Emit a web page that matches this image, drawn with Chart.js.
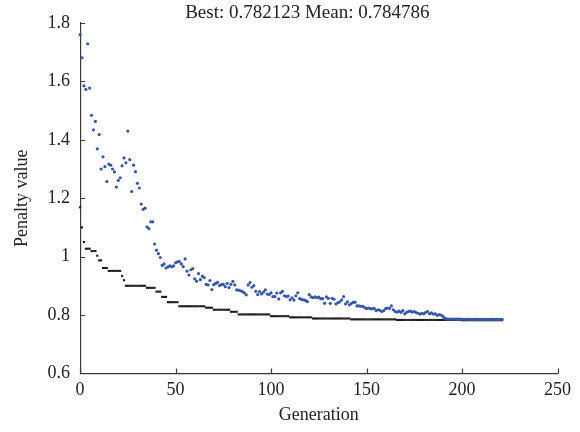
<!DOCTYPE html>
<html>
<head>
<meta charset="utf-8">
<script src="https://cdn.jsdelivr.net/npm/chart.js@4.4.1/dist/chart.umd.min.js"></script>
<style>
  html, body { margin: 0; padding: 0; background: #fff; }
  #wrap { width: 580px; height: 432px; }
</style>
</head>
<body>
<div id="wrap"><canvas id="chart" width="580" height="432"></canvas></div>
<script>
// mean penalty per generation (blue dots)
const meanValues = [
  1.760, 1.681, 1.585, 1.573, 1.729, 1.577, 1.484, 1.434, 1.463, 1.369,
  1.418, 1.300, 1.342, 1.308, 1.257, 1.317, 1.313, 1.300, 1.290, 1.238,
  1.261, 1.270, 1.311, 1.338, 1.321, 1.430, 1.332, 1.223, 1.313, 1.291,
  1.251, 1.235, 1.180, 1.162, 1.166, 1.102, 1.096, 1.119, 1.119, 1.043,
  1.022, 1.010, 0.997, 0.970, 0.975, 0.961, 0.965, 0.968, 0.965, 0.968,
  0.979, 0.982, 0.983, 0.975, 0.966, 0.992, 0.950, 0.937, 0.955, 0.959,
  0.924, 0.916, 0.942, 0.921, 0.933, 0.928, 0.905, 0.903, 0.918, 0.887,
  0.904, 0.908, 0.912, 0.901, 0.904, 0.905, 0.897, 0.908, 0.894, 0.905,
  0.915, 0.903, 0.886, 0.885, 0.883, 0.880, 0.876, 0.869, 0.903, 0.911,
  0.895, 0.901, 0.881, 0.870, 0.880, 0.872, 0.878, 0.886, 0.872, 0.870,
  0.876, 0.863, 0.863, 0.875, 0.855, 0.876, 0.881, 0.866, 0.863, 0.865,
  0.852, 0.859, 0.851, 0.866, 0.876, 0.856, 0.853, 0.852, 0.850, 0.846,
  0.870, 0.862, 0.859, 0.862, 0.860, 0.861, 0.856, 0.856, 0.840, 0.862,
  0.857, 0.840, 0.857, 0.854, 0.838, 0.842, 0.845, 0.852, 0.863, 0.838,
  0.845, 0.835, 0.839, 0.843, 0.844, 0.831, 0.831, 0.830, 0.830, 0.825,
  0.822, 0.824, 0.822, 0.821, 0.823, 0.815, 0.818, 0.816, 0.812, 0.815,
  0.822, 0.824, 0.823, 0.831, 0.818, 0.812, 0.810, 0.813, 0.809, 0.815,
  0.804, 0.809, 0.812, 0.813, 0.810, 0.812, 0.808, 0.806, 0.803, 0.806,
  0.804, 0.809, 0.812, 0.804, 0.807, 0.803, 0.804, 0.799, 0.801, 0.800,
  0.795, 0.789, 0.787, 0.786, 0.786, 0.7862, 0.7860, 0.7858, 0.7857, 0.7856,
  0.7855, 0.7855, 0.7854, 0.7853, 0.7852, 0.7852, 0.7851, 0.7851, 0.7850, 0.7850,
  0.7850, 0.7849, 0.7849, 0.7849, 0.7848, 0.7848, 0.7848, 0.7848, 0.7848, 0.7848,
  0.784786, 0.784786
];

// best penalty per generation (black dots)
const bestValues = [
  1.169, 1.100, 1.050, 1.027, 1.027, 1.027, 1.019, 1.019, 1.019, 1.003,
  0.987, 0.987, 0.961, 0.961, 0.961, 0.951, 0.951, 0.951, 0.951, 0.951,
  0.951, 0.951, 0.934, 0.919, 0.900, 0.900, 0.900, 0.900, 0.900, 0.900,
  0.900, 0.900, 0.900, 0.900, 0.900, 0.893, 0.893, 0.893, 0.893, 0.893,
  0.880, 0.880, 0.880, 0.862, 0.862, 0.862, 0.844, 0.844, 0.844, 0.844,
  0.844, 0.844, 0.830, 0.830, 0.830, 0.830, 0.830, 0.830, 0.830, 0.830,
  0.830, 0.830, 0.830, 0.830, 0.830, 0.830, 0.825, 0.825, 0.825, 0.825,
  0.818, 0.818, 0.818, 0.818, 0.818, 0.818, 0.818, 0.818, 0.818, 0.811,
  0.811, 0.811, 0.811, 0.802, 0.802, 0.802, 0.802, 0.802, 0.802, 0.802,
  0.802, 0.802, 0.802, 0.802, 0.802, 0.802, 0.802, 0.802, 0.802, 0.802,
  0.796, 0.796, 0.796, 0.796, 0.796, 0.796, 0.796, 0.796, 0.796, 0.796,
  0.792, 0.792, 0.792, 0.792, 0.792, 0.792, 0.792, 0.792, 0.792, 0.792,
  0.792, 0.792, 0.788, 0.788, 0.788, 0.788, 0.788, 0.788, 0.788, 0.788,
  0.788, 0.788, 0.788, 0.788, 0.788, 0.788, 0.788, 0.788, 0.788, 0.788,
  0.788, 0.788, 0.785, 0.785, 0.785, 0.785, 0.785, 0.785, 0.785, 0.785,
  0.785, 0.785, 0.785, 0.785, 0.785, 0.785, 0.785, 0.785, 0.785, 0.785,
  0.785, 0.785, 0.785, 0.785, 0.785, 0.785, 0.783, 0.783, 0.783, 0.783,
  0.783, 0.783, 0.783, 0.783, 0.783, 0.783, 0.783, 0.783, 0.783, 0.783,
  0.783, 0.783, 0.783, 0.783, 0.783, 0.783, 0.783, 0.783, 0.783, 0.783,
  0.783, 0.783, 0.783, 0.783, 0.783, 0.783, 0.783, 0.783, 0.783, 0.783,
  0.782123, 0.782123, 0.782123, 0.782123, 0.782123, 0.782123, 0.782123, 0.782123, 0.782123, 0.782123,
  0.782123, 0.782123, 0.782123, 0.782123, 0.782123, 0.782123, 0.782123, 0.782123, 0.782123, 0.782123,
  0.782123, 0.782123
];

const xTicks = [0, 50, 100, 150, 200, 250];
const yTicks = [0.6, 0.8, 1.0, 1.2, 1.4, 1.6, 1.8];
const titleText = 'Best: 0.782123 Mean: 0.784786';

const serif = '"Liberation Serif", "DejaVu Serif", serif';
const axisColor = '#3a3a3a';
const textColor = '#222';

// inward ticks and the heading, placed from the scales
const decorations = {
  id: 'decorations',
  afterDatasetsDraw(chart) {
    const { ctx, chartArea, scales: { x, y } } = chart;
    ctx.save();
    ctx.strokeStyle = axisColor;
    ctx.lineWidth = 1.2;
    ctx.beginPath();
    xTicks.forEach(v => {
      const px = Math.round(x.getPixelForValue(v)) + 0.5;
      ctx.moveTo(px, chartArea.bottom);
      ctx.lineTo(px, chartArea.bottom - 5);
    });
    yTicks.forEach(v => {
      const py = Math.round(y.getPixelForValue(v)) + 0.5;
      ctx.moveTo(chartArea.left, py);
      ctx.lineTo(chartArea.left + 5, py);
    });
    ctx.stroke();

    ctx.fillStyle = textColor;
    ctx.font = '19px ' + serif;
    ctx.textAlign = 'center';
    ctx.textBaseline = 'middle';
    ctx.fillText(titleText, x.getPixelForValue(119), 13);
    ctx.restore();
  }
};

const toPoints = arr => arr.map((v, i) => ({ x: i, y: v }));

new Chart(document.getElementById('chart'), {
  type: 'scatter',
  data: {
    datasets: [
      {
        label: 'Mean',
        data: toPoints(meanValues),
        backgroundColor: '#3856a8',
        borderWidth: 0,
        pointRadius: 1.6,
        clip: false,
        order: 0
      },
      {
        label: 'Best',
        data: toPoints(bestValues),
        backgroundColor: '#1b1b1b',
        borderWidth: 0,
        pointStyle: 'rect',
        pointRadius: 1.5,
        clip: false,
        order: 1
      }
    ]
  },
  options: {
    responsive: false,
    animation: false,
    layout: { padding: { top: 23, right: 18, left: 11, bottom: 10 } },
    plugins: {
      legend: { display: false },
      tooltip: { enabled: false },
      title: { display: false }
    },
    scales: {
      x: {
        type: 'linear',
        min: 0,
        max: 250,
        afterBuildTicks: s => { s.ticks = xTicks.map(v => ({ value: v })); },
        grid: { display: false, tickLength: 0 },
        border: { display: true, color: axisColor, width: 1.2 },
        ticks: { color: textColor, font: { family: serif, size: 18, lineHeight: 0.9 }, padding: 9 },
        title: {
          display: true,
          text: 'Generation',
          color: textColor,
          font: { family: serif, size: 18, lineHeight: 0.8 },
          padding: { top: 0, bottom: 0 }
        }
      },
      y: {
        type: 'linear',
        min: 0.6,
        max: 1.8,
        afterBuildTicks: s => { s.ticks = yTicks.map(v => ({ value: v })); },
        grid: { display: false, tickLength: 0 },
        border: { display: true, color: axisColor, width: 1.2 },
        ticks: {
          color: textColor,
          font: { family: serif, size: 18 },
          padding: 10,
          callback: v => String(Number(v.toFixed(1)))
        },
        title: {
          display: true,
          text: 'Penalty value',
          color: textColor,
          font: { family: serif, size: 18 },
          padding: { top: 0, bottom: 5 }
        }
      }
    }
  },
  plugins: [decorations]
});
</script>
</body>
</html>
